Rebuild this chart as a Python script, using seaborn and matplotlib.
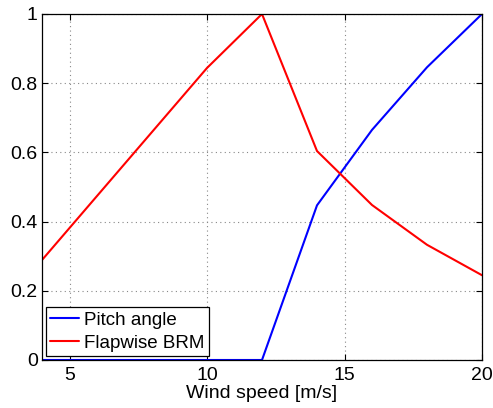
import numpy as np
import pandas as pd
import matplotlib
matplotlib.use("Agg")
import matplotlib.pyplot as plt
import seaborn as sns

# Normalised quantities versus wind speed
wind_speed = [4, 6, 8, 10, 12, 14, 16, 18, 20]
pitch_angle = [0.0, 0.0, 0.0, 0.0, 0.0, 0.447, 0.665, 0.846, 1.0]
flapwise_brm = [0.289, 0.474, 0.659, 0.844, 1.0, 0.604, 0.448, 0.333, 0.245]
series_names = ["Pitch angle", "Flapwise BRM"]
x_ticks = [5, 10, 15, 20]
y_ticks = [0, 0.2, 0.4, 0.6, 0.8, 1]
y_tick_labels = ["0", "0.2", "0.4", "0.6", "0.8", "1"]

df = pd.DataFrame({
    "Wind speed": wind_speed * 2,
    "value": pitch_angle + flapwise_brm,
    "series": [series_names[0]] * len(wind_speed) + [series_names[1]] * len(wind_speed),
})

sns.set_style("ticks")
plt.rcParams["font.family"] = ["Liberation Sans", "DejaVu Sans"]
plt.rcParams["text.color"] = "black"
plt.rcParams["axes.labelcolor"] = "black"

fig = plt.figure(figsize=(4.93, 4.08), dpi=100)
ax = fig.add_axes([42 / 493, 1 - 360 / 408, 440 / 493, 346 / 408])

sns.lineplot(data=df, x="Wind speed", y="value", hue="series",
             palette={series_names[0]: "#0000ff", series_names[1]: "#ff0000"},
             linewidth=1.5, ax=ax, legend=True)

ax.set_xlim(4, 20)
ax.set_ylim(0, 1)
ax.set_xticks(x_ticks)
ax.set_xticklabels([str(t) for t in x_ticks])
ax.set_yticks(y_ticks)
ax.set_yticklabels(y_tick_labels)
ax.tick_params(direction="in", length=4, width=0.8, labelsize=14, colors="black",
               top=True, right=True)
ax.tick_params(axis="x", pad=5)
ax.tick_params(axis="y", pad=3)
ax.grid(True, linestyle=(0, (1, 3)), color="#888888", linewidth=0.8)
for side in ax.spines.values():
    side.set_visible(True)
    side.set_color("black")
    side.set_linewidth(0.9)

ax.set_xlabel("Wind speed [m/s]", fontsize=14, labelpad=1)
ax.set_ylabel("")

leg = ax.legend(loc="lower left", fontsize=13.5, frameon=True, fancybox=False,
                edgecolor="black", borderaxespad=0.2, handlelength=1.5,
                borderpad=0.25, labelspacing=0.3, handletextpad=0.3)
leg.get_frame().set_linewidth(0.9)
leg.get_frame().set_alpha(1)

fig.savefig("out.png", dpi=100)
